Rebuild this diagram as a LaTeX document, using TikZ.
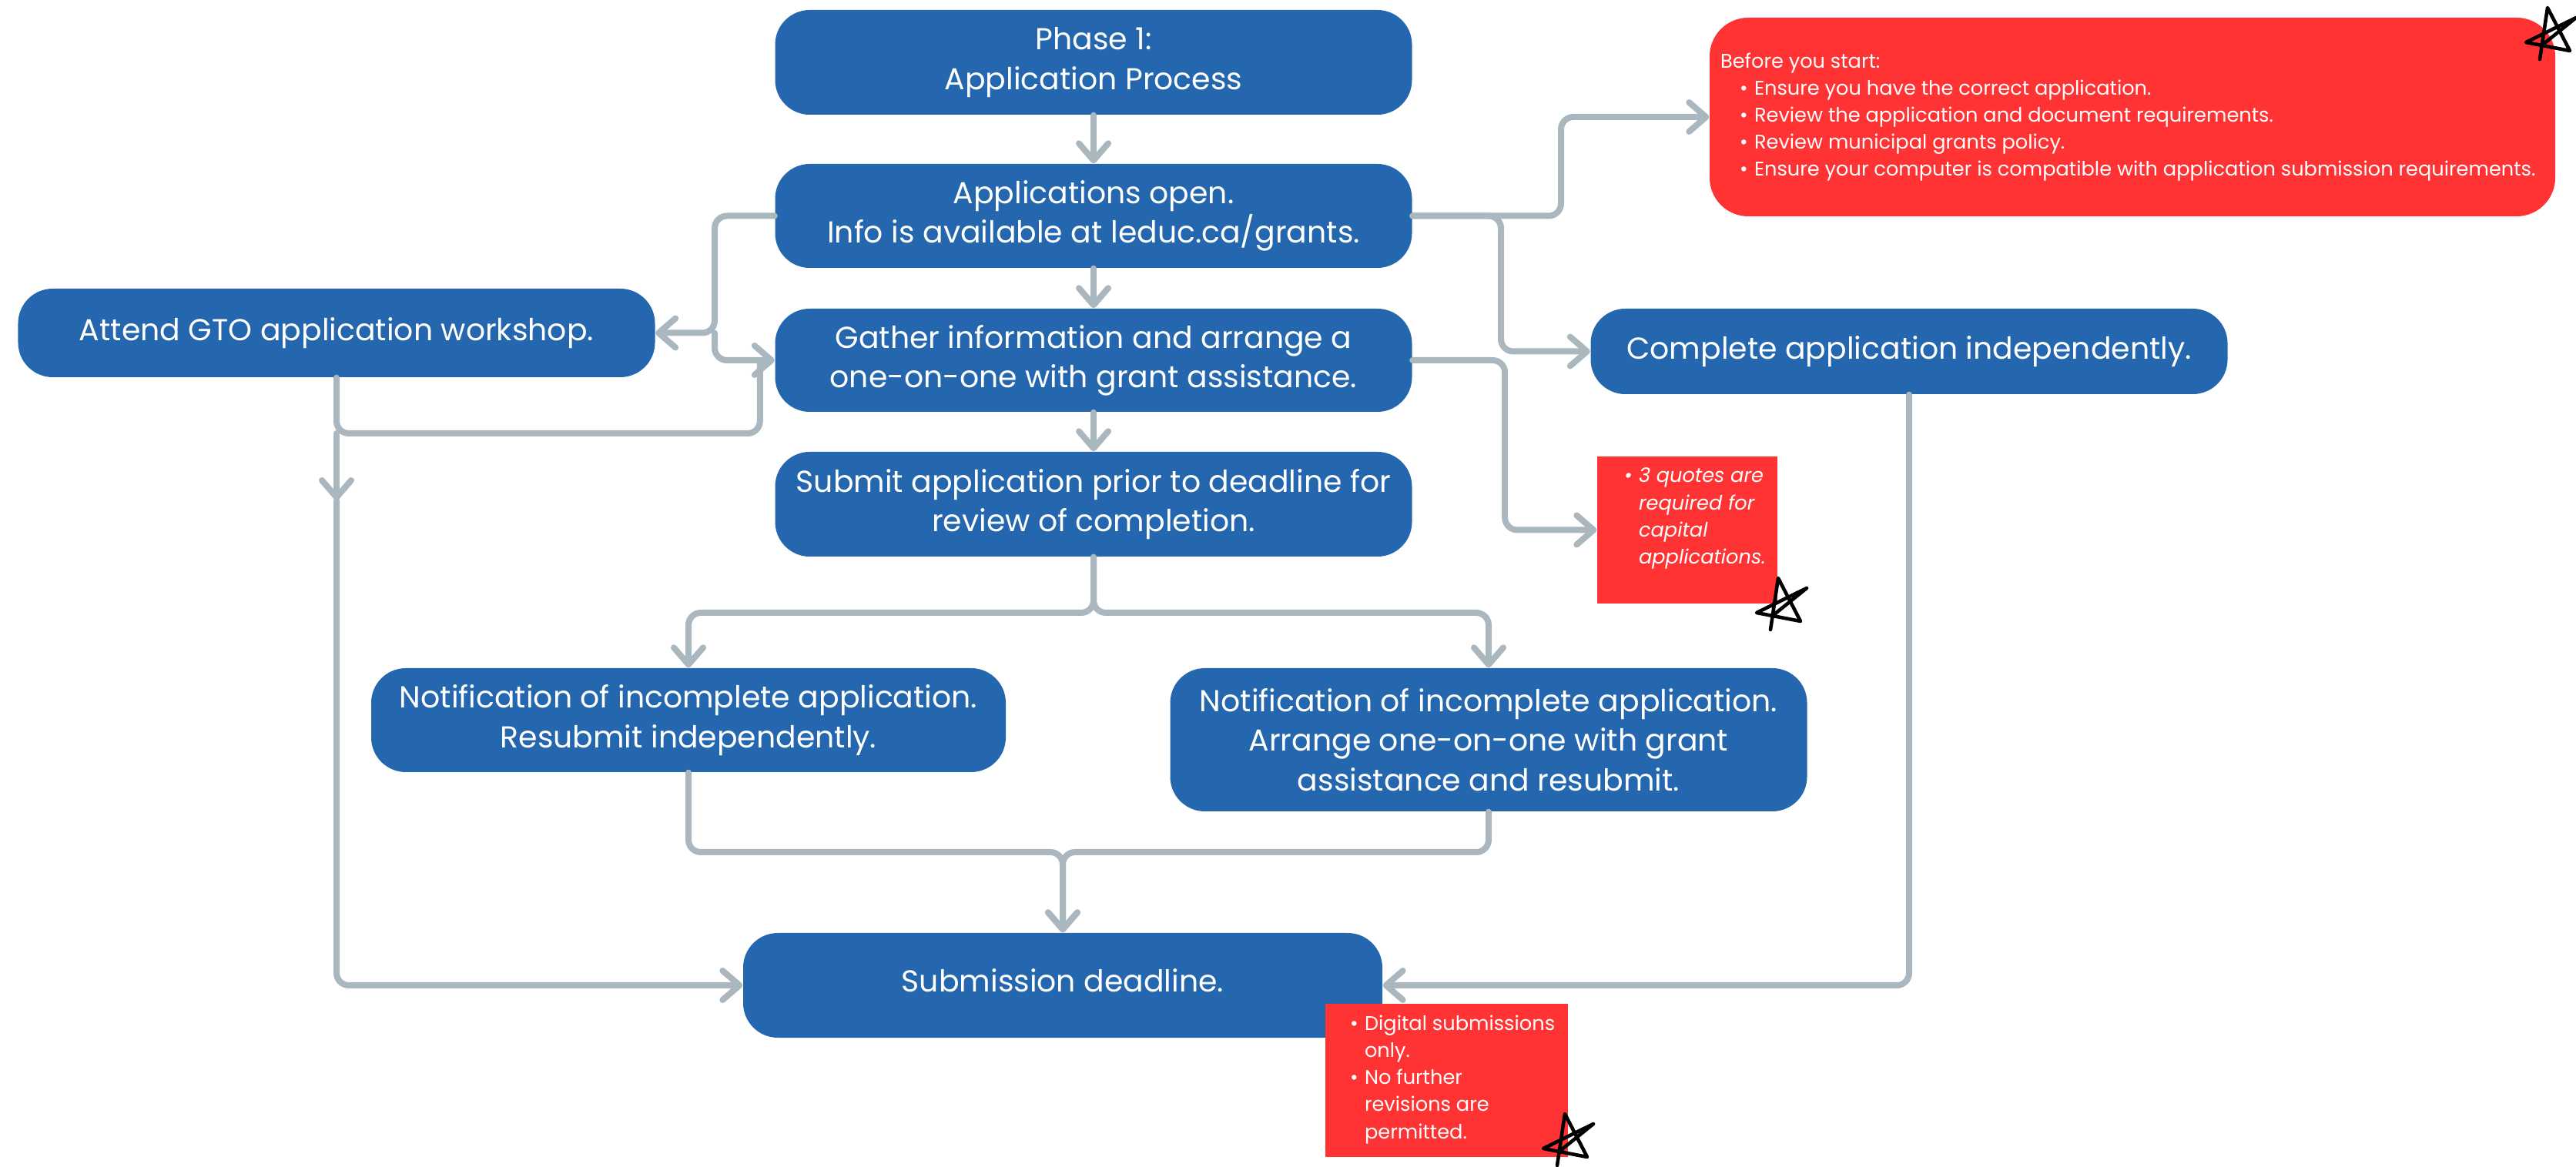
\documentclass[tikz,border=0pt]{standalone}
\usepackage{fontspec}
\setmainfont{Poppins}
\usepackage{tikz}
\usetikzlibrary{arrows.meta, positioning, calc}
\definecolor{boxblue}{HTML}{2567AE}
\definecolor{notered}{HTML}{FF3333}
\definecolor{linegrey}{HTML}{ABB7BF}
\tikzset{stepbox/.style={fill=boxblue, text=white, rounded corners=0.45cm, align=center, inner sep=0pt, minimum width=8.27cm, font=\fontsize{11.2}{14.6}\selectfont},
	notebox/.style={fill=notered, text=white, inner sep=0pt, font=\fontsize{7.3}{10}\selectfont},
	conn/.style={draw=linegrey, line width=0.8mm, rounded corners=1.6mm, line cap=round},
	arr/.style={conn, -{Straight Barb[length=2.2mm,width=3.8mm,round]}},
	doodle/.pic={\draw[line width=1.3pt, line cap=round, line join=round] (-0.15,-0.32) -- (-0.05,0.35) -- (0.24,-0.21) -- (-0.33,-0.10) -- (0.32,0.22) -- (-0.10,-0.12);}}
\newcommand{\bul}[1]{\par\noindent\hangindent=0.19cm\hangafter=1\makebox[0.19cm][l]{\textbullet}#1\par}

\begin{document}
\begin{tikzpicture}
	\useasboundingbox (0,0) rectangle (33.45,15.15);
	\node[stepbox, minimum height=1.36cm] (phase) at (14.20,14.34) {Phase 1:\\Application Process};
	\node[stepbox, minimum height=1.35cm] (apps) at (14.20,12.345) {Applications open.\\Info is available at leduc.ca/grants.};
	\node[stepbox, minimum height=1.34cm] (gather) at (14.20,10.47) {Gather information and arrange a\\one-on-one with grant assistance.};
	\node[stepbox, minimum height=1.36cm] (submit) at (14.20,8.60) {Submit application prior to deadline for\\review of completion.};
	\node[stepbox, minimum height=1.15cm] (attend) at (4.37,10.825) {Attend GTO application workshop.};
	\node[stepbox, minimum height=1.11cm] (complete) at (24.79,10.585) {Complete application independently.};
	\node[stepbox, minimum width=8.24cm, minimum height=1.35cm] (notifl) at (8.94,5.795) {Notification of incomplete application.\\Resubmit independently.};
	\node[stepbox, minimum height=1.86cm] (notifr) at (19.33,5.54) {Notification of incomplete application.\\Arrange one-on-one with grant\\assistance and resubmit.};
	\node[stepbox, minimum width=8.30cm, minimum height=1.36cm] (deadline) at (13.80,2.35) {\raisebox{0.12cm}{Submission deadline.}};
	% notes
	\node[notebox, rounded corners=0.5cm, minimum width=10.98cm, minimum height=2.58cm] (before) at (27.69,13.63) {\parbox{10.70cm}{Before you start:\par\leftskip=0.25cm
		\bul{Ensure you have the correct application.}
		\bul{Review the application and document requirements.}
		\bul{Review municipal grants policy.}
		\bul{Ensure your computer is compatible with application submission requirements.}}};
	\node[notebox] (quotes) at (21.91,8.265) {\parbox[c][1.91cm][t]{2.34cm}{\vspace*{0.15cm}\leftskip=0.35cm\itshape
		\bul{3 quotes are\\required for\\capital\\applications.}}};
	\node[notebox] (digital) at (18.785,1.115) {\parbox[c][1.99cm][t]{3.15cm}{\vspace*{0.15cm}\leftskip=0.32cm
		\bul{Digital submissions\\only.}
		\bul{No further\\revisions are\\permitted.}}};
	% main line
	\draw[arr] (phase) -- (apps);
	\draw[arr] (apps) -- (gather);
	\draw[arr] (gather) -- (submit);
	% left side
	\coordinate (lsplit) at (9.28,10.825);
	\draw[arr] (apps.west) -| (lsplit) -- (attend.east);
	\draw[arr] (lsplit) |- (gather.west);
	\coordinate (wsplit) at (4.37,9.52);
	\coordinate (wmid) at (4.37,8.65);
	\draw[conn] (attend.south) -- (wsplit) -| ([xshift=-1.9mm]gather.west);
	\draw[arr] (wsplit) -- (wmid);
	\draw[arr] (wmid) |- (deadline.west);
	% right side
	\draw[arr] (apps.east) -| (20.27,13.63) -- (before.west);
	\draw[arr] (apps.east) -| (19.49,10.585) -- (complete.west);
	\draw[arr] (gather.east) -- ++(1.20,0) |- (quotes.west);
	\draw[arr] (complete.south) |- (deadline.east);
	% split and merge
	\coordinate (ssplit) at (14.20,7.19);
	\draw[arr] (submit.south) -- (ssplit) -| (notifl.north);
	\draw[arr] (submit.south) -- (ssplit) -| (notifr.north);
	\coordinate (dsplit) at (13.80,4.08);
	\draw[arr] (notifl.south) |- (dsplit) -- (deadline.north);
	\draw[arr] (notifr.south) |- (dsplit) -- (deadline.north);
	% stars
	\pic at (33.13,14.70) {doodle};
	\pic at (23.14,7.29) {doodle};
	\pic at (20.37,0.33) {doodle};
\end{tikzpicture}
\end{document}
